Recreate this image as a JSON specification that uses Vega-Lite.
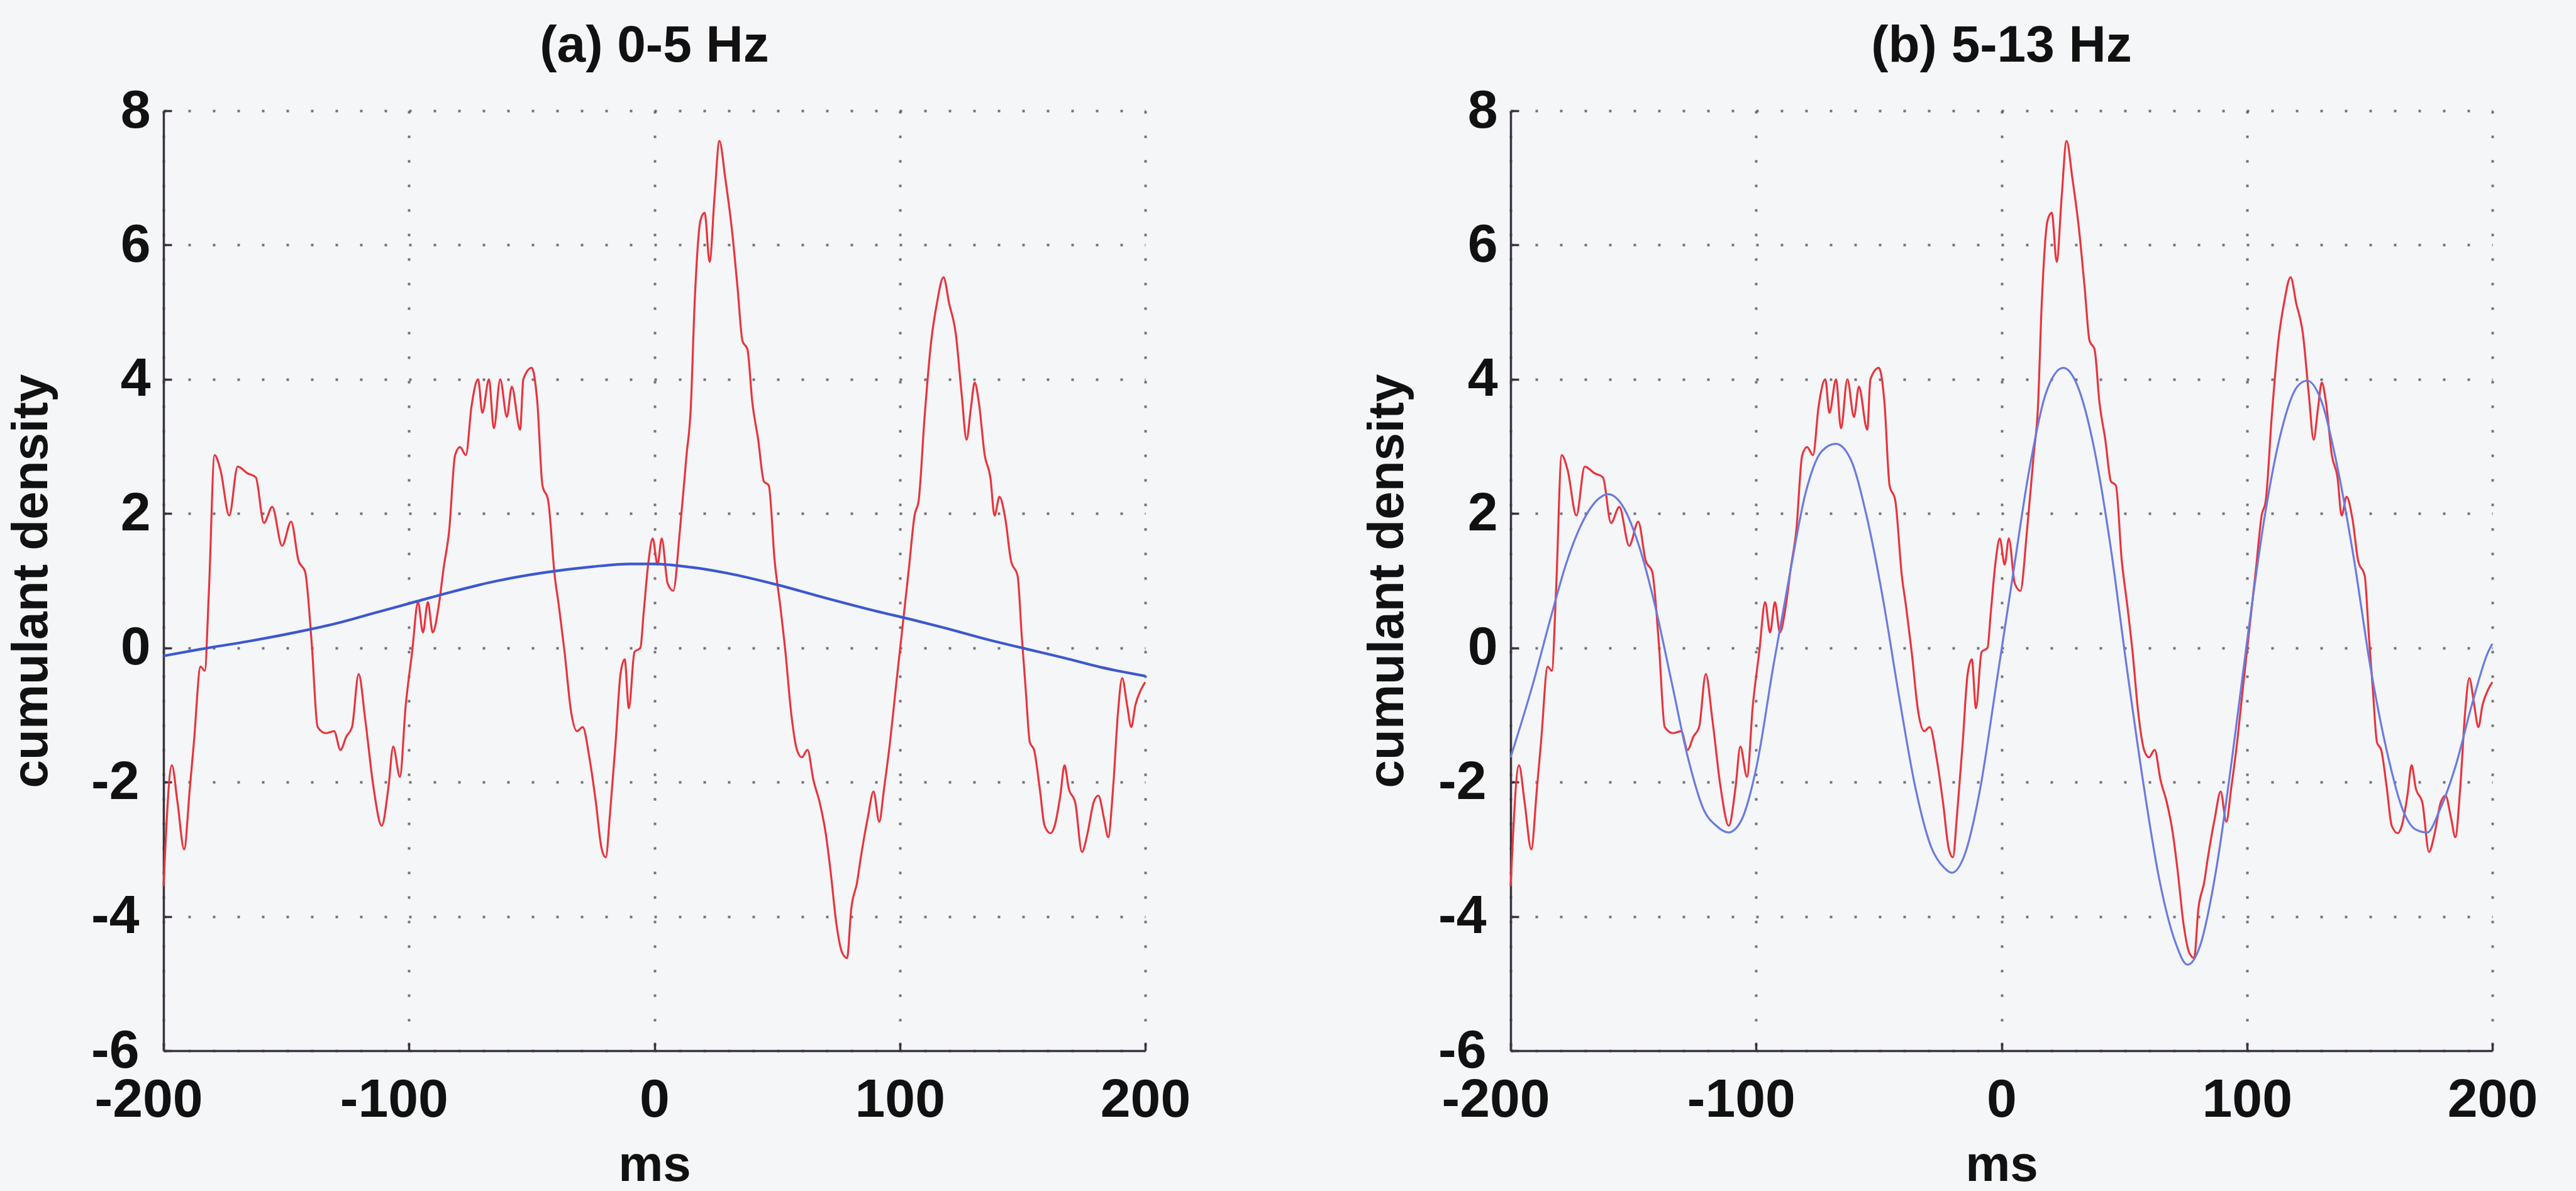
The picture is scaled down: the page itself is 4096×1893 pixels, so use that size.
{
  "$schema": "https://vega.github.io/schema/vega-lite/v6.json",
  "autosize": {"type": "none"},
  "padding": {"left": 260, "top": 176, "right": 3836, "bottom": 1717},
  "background": "#f5f6f8",
  "datasets": {
    "red": [
      {"x":-200,"y":-3.55},{"x":-196.6,"y":-1.75},{"x":-194.3,"y":-2.3},{"x":-191.6,"y":-3.0},{"x":-189.3,"y":-2.1},{"x":-187.6,"y":-1.4},{"x":-184.9,"y":-0.28},{"x":-183.2,"y":-0.34},{"x":-181.5,"y":0.85},{"x":-179.2,"y":2.87},{"x":-176.8,"y":2.65},{"x":-173.2,"y":1.97},{"x":-169.8,"y":2.7},{"x":-165.8,"y":2.6},{"x":-162.4,"y":2.54},{"x":-159.1,"y":1.86},{"x":-155.7,"y":2.1},{"x":-151.7,"y":1.52},{"x":-148,"y":1.88},{"x":-145,"y":1.3},{"x":-142.3,"y":1.13},{"x":-139.6,"y":0.06},{"x":-137.2,"y":-1.18},{"x":-133.9,"y":-1.27},{"x":-130.5,"y":-1.24},{"x":-127.9,"y":-1.52},{"x":-125.5,"y":-1.32},{"x":-123.2,"y":-1.18},{"x":-120.5,"y":-0.39},{"x":-117.8,"y":-1.07},{"x":-114.4,"y":-2.09},{"x":-111.1,"y":-2.65},{"x":-108.4,"y":-2.09},{"x":-106.4,"y":-1.47},{"x":-103.7,"y":-1.92},{"x":-101.3,"y":-0.85},{"x":-98.7,"y":-0.06},{"x":-96.3,"y":0.68},{"x":-94.3,"y":0.23},{"x":-92.3,"y":0.68},{"x":-90.3,"y":0.23},{"x":-87.9,"y":0.62},{"x":-85.9,"y":1.18},{"x":-83.6,"y":1.75},{"x":-81.2,"y":2.87},{"x":-79.2,"y":2.99},{"x":-76.8,"y":2.87},{"x":-74.5,"y":3.6},{"x":-71.8,"y":4.0},{"x":-70.1,"y":3.5},{"x":-67.4,"y":4.0},{"x":-65.4,"y":3.27},{"x":-62.8,"y":4.0},{"x":-60.1,"y":3.44},{"x":-58.1,"y":3.89},{"x":-54.7,"y":3.25},{"x":-53.4,"y":4.0},{"x":-50,"y":4.17},{"x":-47.7,"y":3.66},{"x":-45.6,"y":2.42},{"x":-43.3,"y":2.2},{"x":-40.6,"y":1.07},{"x":-38.9,"y":0.62},{"x":-36.6,"y":-0.06},{"x":-33.9,"y":-0.96},{"x":-31.5,"y":-1.24},{"x":-29.2,"y":-1.18},{"x":-26.5,"y":-1.63},{"x":-23.8,"y":-2.31},{"x":-21.5,"y":-2.99},{"x":-19.8,"y":-3.12},{"x":-18.1,"y":-2.48},{"x":-15.8,"y":-1.41},{"x":-13.8,"y":-0.39},{"x":-12.1,"y":-0.17},{"x":-10.4,"y":-0.9},{"x":-8.1,"y":-0.06},{"x":-5.7,"y":0},{"x":-4.4,"y":0.51},{"x":-2.35,"y":1.3},{"x":-0.7,"y":1.63},{"x":1.3,"y":1.24},{"x":3.0,"y":1.63},{"x":5.4,"y":0.96},{"x":7.7,"y":0.85},{"x":10.4,"y":1.75},{"x":13.1,"y":2.87},{"x":14.8,"y":3.55},{"x":16.4,"y":5.13},{"x":18.8,"y":6.37},{"x":20.5,"y":6.48},{"x":22.5,"y":5.75},{"x":24.5,"y":6.71},{"x":26.5,"y":7.55},{"x":28.9,"y":6.99},{"x":31.5,"y":6.26},{"x":33.9,"y":5.36},{"x":35.9,"y":4.57},{"x":37.9,"y":4.45},{"x":39.9,"y":3.66},{"x":42.3,"y":3.1},{"x":44.6,"y":2.48},{"x":46.6,"y":2.42},{"x":49.0,"y":1.3},{"x":51.3,"y":0.62},{"x":53.4,"y":-0.06},{"x":55.7,"y":-0.96},{"x":58.1,"y":-1.52},{"x":60.1,"y":-1.63},{"x":62.4,"y":-1.52},{"x":64.8,"y":-1.97},{"x":67.4,"y":-2.31},{"x":69.8,"y":-2.76},{"x":71.8,"y":-3.33},{"x":74.2,"y":-4.12},{"x":76.5,"y":-4.54},{"x":78.5,"y":-4.62},{"x":80.2,"y":-3.89},{"x":82.6,"y":-3.49},{"x":84.2,"y":-3.1},{"x":86.9,"y":-2.54},{"x":89.3,"y":-2.14},{"x":91.6,"y":-2.59},{"x":93.6,"y":-2.09},{"x":96,"y":-1.41},{"x":98.3,"y":-0.62},{"x":101,"y":0.28},{"x":103.7,"y":1.18},{"x":106,"y":1.97},{"x":107.7,"y":2.2},{"x":110.1,"y":3.44},{"x":112.8,"y":4.57},{"x":115.1,"y":5.13},{"x":117.8,"y":5.52},{"x":120.1,"y":5.13},{"x":122.8,"y":4.68},{"x":125.2,"y":3.78},{"x":127.2,"y":3.1},{"x":128.9,"y":3.55},{"x":130.5,"y":3.95},{"x":132.2,"y":3.66},{"x":134.6,"y":2.87},{"x":136.9,"y":2.54},{"x":138.6,"y":1.97},{"x":140.6,"y":2.25},{"x":143,"y":1.92},{"x":145.3,"y":1.3},{"x":148,"y":1.07},{"x":149.7,"y":0.17},{"x":151.3,"y":-0.62},{"x":153,"y":-1.41},{"x":154.7,"y":-1.52},{"x":157,"y":-2.09},{"x":159,"y":-2.65},{"x":161.4,"y":-2.76},{"x":163.1,"y":-2.65},{"x":165.4,"y":-2.2},{"x":167.1,"y":-1.75},{"x":168.8,"y":-2.09},{"x":171.5,"y":-2.31},{"x":174.2,"y":-3.04},{"x":176.5,"y":-2.76},{"x":178.9,"y":-2.31},{"x":180.9,"y":-2.2},{"x":183.2,"y":-2.54},{"x":184.9,"y":-2.82},{"x":186.9,"y":-2.09},{"x":188.9,"y":-0.96},{"x":190.6,"y":-0.45},{"x":192.6,"y":-0.85},{"x":194.3,"y":-1.18},{"x":196,"y":-0.85},{"x":198.3,"y":-0.62},{"x":200,"y":-0.51}
    ],
    "blueA": [
      {"x":-200,"y":-0.12},{"x":-185,"y":-0.02},{"x":-165,"y":0.1},{"x":-145,"y":0.24},{"x":-130,"y":0.36},{"x":-115,"y":0.51},{"x":-98,"y":0.68},{"x":-84,"y":0.82},{"x":-65,"y":0.99},{"x":-45,"y":1.12},{"x":-25,"y":1.21},{"x":-10,"y":1.25},{"x":0,"y":1.25},{"x":15,"y":1.2},{"x":30,"y":1.11},{"x":50,"y":0.94},{"x":70,"y":0.74},{"x":90,"y":0.55},{"x":105,"y":0.42},{"x":118,"y":0.3},{"x":135,"y":0.13},{"x":152,"y":-0.02},{"x":167,"y":-0.15},{"x":182,"y":-0.29},{"x":200,"y":-0.42}
    ],
    "blueB": [
      {"x":-200,"y":-1.63},{"x":-190.7,"y":-0.51},{"x":-184.1,"y":0.39},{"x":-177.5,"y":1.24},{"x":-170.9,"y":1.86},{"x":-164.2,"y":2.22},{"x":-160.3,"y":2.29},{"x":-154.3,"y":2.11},{"x":-147.7,"y":1.52},{"x":-141.1,"y":0.62},{"x":-134.4,"y":-0.51},{"x":-127.8,"y":-1.63},{"x":-121.2,"y":-2.42},{"x":-116.2,"y":-2.65},{"x":-111.3,"y":-2.75},{"x":-106.3,"y":-2.59},{"x":-99.7,"y":-1.75},{"x":-93.0,"y":-0.28},{"x":-86.4,"y":1.07},{"x":-79.8,"y":2.31},{"x":-73.2,"y":2.93},{"x":-67.5,"y":3.04},{"x":-61.6,"y":2.82},{"x":-55,"y":1.97},{"x":-48.3,"y":0.73},{"x":-41.7,"y":-0.73},{"x":-35.1,"y":-2.08},{"x":-28.5,"y":-2.98},{"x":-23.5,"y":-3.27},{"x":-20.2,"y":-3.35},{"x":-15.2,"y":-3.1},{"x":-8.6,"y":-2.08},{"x":-2,"y":-0.51},{"x":4.6,"y":1.07},{"x":11.3,"y":2.65},{"x":17.9,"y":3.77},{"x":25.2,"y":4.17},{"x":31.1,"y":3.89},{"x":37.7,"y":2.98},{"x":44.4,"y":1.52},{"x":51,"y":-0.28},{"x":57.6,"y":-1.97},{"x":64.2,"y":-3.43},{"x":70.9,"y":-4.39},{"x":75.8,"y":-4.72},{"x":80.8,"y":-4.45},{"x":87.4,"y":-3.32},{"x":94,"y":-1.63},{"x":100.7,"y":0.28},{"x":107.3,"y":1.97},{"x":113.9,"y":3.21},{"x":120.5,"y":3.89},{"x":124.5,"y":3.98},{"x":130.5,"y":3.66},{"x":137.1,"y":2.65},{"x":143.7,"y":1.3},{"x":150.3,"y":-0.28},{"x":156.9,"y":-1.52},{"x":163.6,"y":-2.42},{"x":168.5,"y":-2.7},{"x":173.5,"y":-2.75},{"x":178.5,"y":-2.42},{"x":185.1,"y":-1.75},{"x":191.7,"y":-0.84},{"x":198.3,"y":-0.06},{"x":200,"y":0.06}
    ],
    "thrA": [
      {"kind":"red","y":1.37},{"kind":"red","y":-1.37},{"kind":"blue","y":0.32},{"kind":"blue","y":-0.32}
    ],
    "thrB": [
      {"kind":"red","y":1.37},{"kind":"red","y":-1.37},{"kind":"blue","y":0.88},{"kind":"blue","y":-0.88}
    ]
  },
  "hconcat": [
    {
      "width": 1561,
      "height": 1494,
      "title": {"text": "(a) 0-5 Hz", "frame": "group", "anchor": "middle", "offset": 59, "dy": 106, "baseline": "alphabetic", "font": "Liberation Sans", "fontSize": 82, "fontWeight": "bold", "color": "#111111"},
      "encoding": {
        "x": {"field": "x", "type": "quantitative", "scale": {"domain": [-200, 200], "nice": false, "zero": false},
              "axis": {"values": [-200, -100, 0, 100, 200], "title": "ms", "titleY": 206, "titleBaseline": "alphabetic", "labelPadding": 49, "labelExpr": "datum.value < 0 ? '-' + abs(datum.value) + '\u00a0\u00a0\u200b' : '' + datum.value"}},
        "y": {"field": "y", "type": "quantitative", "scale": {"domain": [-6, 8], "nice": false, "zero": false},
              "axis": {"values": [-6, -4, -2, 0, 2, 4, 6, 8], "title": "cumulant density", "titleX": -186, "titleY": 747, "titleAngle": 270, "titleAlign": "center", "titleBaseline": "alphabetic", "labelExpr": "datum.value < 0 ? '-' + abs(datum.value) : '' + datum.value", "labelPadding": {"expr": "datum.value < 0 ? 52 : 34"}}}
      },
      "layer": [
        {"data": {"name": "thrA"}, "transform": [{"filter": "datum.kind === 'red'"}], "mark": {"type": "rule", "color": "#f06a58", "strokeWidth": 3.2, "strokeDash": [50, 53]}, "encoding": {"x": {"datum": -200}, "x2": {"datum": 200}}},
        {"data": {"name": "thrA"}, "transform": [{"filter": "datum.kind === 'blue'"}], "mark": {"type": "rule", "color": "#5a6ed8", "strokeWidth": 3.2, "strokeDash": [50, 53]}, "encoding": {"x": {"datum": -200}, "x2": {"datum": 200}}},
        {"data": {"name": "red"}, "mark": {"type": "line", "color": "#e8343c", "strokeWidth": 3.2, "interpolate": "monotone"}, "encoding": {}},
        {"data": {"name": "blueA"}, "mark": {"type": "line", "color": "#3b58d0", "strokeWidth": 4.2, "interpolate": "monotone"}, "encoding": {}}
      ]
    },
    {
      "width": 1561,
      "height": 1494,
      "title": {"text": "(b) 5-13 Hz", "frame": "group", "anchor": "middle", "offset": 59, "dy": 106, "baseline": "alphabetic", "font": "Liberation Sans", "fontSize": 82, "fontWeight": "bold", "color": "#111111"},
      "encoding": {
        "x": {"field": "x", "type": "quantitative", "scale": {"domain": [-200, 200], "nice": false, "zero": false},
              "axis": {"values": [-200, -100, 0, 100, 200], "title": "ms", "titleY": 206, "titleBaseline": "alphabetic", "labelPadding": 49, "labelExpr": "datum.value < 0 ? '-' + abs(datum.value) + '\u00a0\u00a0\u200b' : '' + datum.value"}},
        "y": {"field": "y", "type": "quantitative", "scale": {"domain": [-6, 8], "nice": false, "zero": false},
              "axis": {"values": [-6, -4, -2, 0, 2, 4, 6, 8], "title": "cumulant density", "titleX": -172, "titleY": 747, "titleAngle": 270, "titleAlign": "center", "titleBaseline": "alphabetic", "labelExpr": "datum.value < 0 ? '-' + abs(datum.value) : '' + datum.value", "labelPadding": {"expr": "datum.value < 0 ? 52 : 34"}}}
      },
      "layer": [
        {"data": {"name": "thrB"}, "transform": [{"filter": "datum.kind === 'red'"}], "mark": {"type": "rule", "color": "#f06a58", "strokeWidth": 3.2, "strokeDash": [50, 53]}, "encoding": {"x": {"datum": -200}, "x2": {"datum": 200}}},
        {"data": {"name": "thrB"}, "transform": [{"filter": "datum.kind === 'blue'"}], "mark": {"type": "rule", "color": "#5a6ed8", "strokeWidth": 3.2, "strokeDash": [50, 53]}, "encoding": {"x": {"datum": -200}, "x2": {"datum": 200}}},
        {"data": {"name": "red"}, "mark": {"type": "line", "color": "#e8343c", "strokeWidth": 3.2, "interpolate": "monotone"}, "encoding": {}},
        {"data": {"name": "blueB"}, "mark": {"type": "line", "color": "#6a7be0", "strokeWidth": 3.2, "interpolate": "monotone"}, "encoding": {}}
      ]
    }
  ],
  "spacing": 581,
  "bounds": "flush",
  "config": {
    "view": {"stroke": null},
    "font": "Liberation Sans",
    "axis": {
      "labelFont": "Liberation Sans", "labelFontWeight": "bold", "labelFontSize": 86, "labelColor": "#111111", "labelLimit": 0,
      "titleFont": "Liberation Sans", "titleFontWeight": "bold", "titleFontSize": 80, "titleColor": "#111111", "titleLimit": 0,
      "domainColor": "#3a3440", "domainWidth": 3.5,
      "tickColor": "#3a3440", "tickWidth": 3.5, "tickSize": -13,
      "grid": true, "gridColor": "#5e5864", "gridDash": [4, 35], "gridWidth": 4, "gridOpacity": 0.85,
      "labelFlush": false, "labelOverlap": false, "labelBound": false
    }
  }
}
